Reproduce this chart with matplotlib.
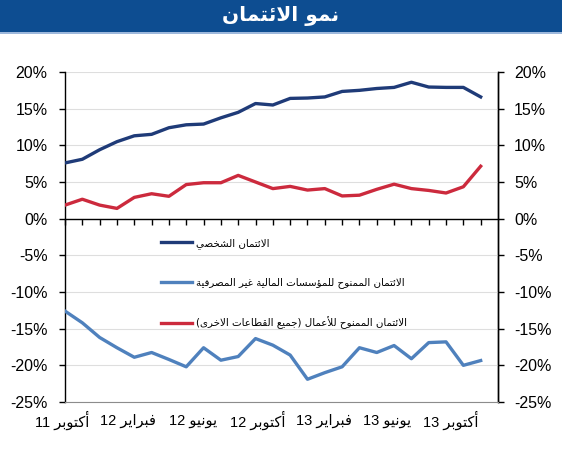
import numpy as np
import matplotlib
matplotlib.use('Agg')
import matplotlib.pyplot as plt
from matplotlib.patches import Rectangle
from matplotlib.ticker import FuncFormatter
from matplotlib.transforms import blended_transform_factory

# ---------------- data ----------------
title = "نمو الائتمان"
series_names = [
    "الائتمان الشخصي",
    "الائتمان الممنوح للمؤسسات المالية غير المصرفية",
    "الائتمان الممنوح للأعمال (جميع القطاعات الاخرى)",
]
# monthly, Oct 2011 .. Oct 2013 (%)
personal = [7.6, 8.1, 9.4, 10.5, 11.3, 11.5, 12.4, 12.8, 12.9, 13.75, 14.5, 15.7, 15.5,
            16.4, 16.45, 16.6, 17.35, 17.5, 17.75, 17.9, 18.6, 17.95, 17.9, 17.9, 16.6]
nbfi = [-12.6, -14.2, -16.2, -17.6, -18.9, -18.25, -19.2, -20.2, -17.6, -19.3, -18.8, -16.35, -17.25,
        -18.6, -21.9, -21.0, -20.2, -17.6, -18.25, -17.3, -19.1, -16.9, -16.8, -20.0, -19.35]
business = [1.85, 2.65, 1.85, 1.4, 2.9, 3.4, 3.05, 4.65, 4.9, 4.9, 5.9, 5.0, 4.1,
            4.4, 3.9, 4.1, 3.1, 3.2, 4.0, 4.7, 4.1, 3.85, 3.5, 4.35, 7.15]
x_labels = ["أكتوبر 11", "فبراير 12", "يونيو 12", "أكتوبر 12", "فبراير 13", "يونيو 13", "أكتوبر 13"]
y_ticks = [-25, -20, -15, -10, -5, 0, 5, 10, 15, 20]

# ------------- minimal Arabic shaping / visual ordering -------------
DUAL = {0x626: 0xFE89, 0x628: 0xFE8F, 0x62A: 0xFE95, 0x62B: 0xFE99, 0x62C: 0xFE9D, 0x62D: 0xFEA1,
        0x62E: 0xFEA5, 0x633: 0xFEB1, 0x634: 0xFEB5, 0x635: 0xFEB9, 0x636: 0xFEBD, 0x637: 0xFEC1,
        0x638: 0xFEC5, 0x639: 0xFEC9, 0x63A: 0xFECD, 0x641: 0xFED1, 0x642: 0xFED5, 0x643: 0xFED9,
        0x644: 0xFEDD, 0x645: 0xFEE1, 0x646: 0xFEE5, 0x647: 0xFEE9, 0x64A: 0xFEF1}
RIGHT = {0x622: 0xFE81, 0x623: 0xFE83, 0x624: 0xFE85, 0x625: 0xFE87, 0x627: 0xFE8D, 0x629: 0xFE93,
         0x62F: 0xFEA9, 0x630: 0xFEAB, 0x631: 0xFEAD, 0x632: 0xFEAF, 0x648: 0xFEED, 0x649: 0xFEEF}
LAMALEF = {0x622: 0xFEF5, 0x623: 0xFEF7, 0x625: 0xFEF9, 0x627: 0xFEFB}


def shape(s):
    toks = []
    i = 0
    while i < len(s):
        c = ord(s[i])
        if c == 0x644 and i + 1 < len(s) and ord(s[i + 1]) in LAMALEF:
            toks.append(('R', LAMALEF[ord(s[i + 1])]))
            i += 2
            continue
        if c in DUAL:
            toks.append(('D', DUAL[c]))
        elif c in RIGHT:
            toks.append(('R', RIGHT[c]))
        elif c == 0x621:
            toks.append(('N', 0xFE80))
        else:
            toks.append(('X', c))
        i += 1
    out = []
    for j, (k, b) in enumerate(toks):
        if k in ('X', 'N'):
            out.append(chr(b))
            continue
        jp = j > 0 and toks[j - 1][0] == 'D'
        jn = k == 'D' and j + 1 < len(toks) and toks[j + 1][0] in ('D', 'R')
        if k == 'D':
            off = 3 if (jp and jn) else 1 if jp else 2 if jn else 0
        else:
            off = 1 if jp else 0
        out.append(chr(b + off))
    return ''.join(out)


def visual(s):
    s = shape(s)
    runs = []
    for ch in s:
        ltr = ch.isascii() and (ch.isalnum() or ch in '%.')
        if runs and runs[-1][0] == ltr:
            runs[-1][1].append(ch)
        else:
            runs.append([ltr, [ch]])
    mirror = {'(': ')', ')': '('}
    parts = []
    for ltr, chs in reversed(runs):
        if ltr:
            parts.append(''.join(chs))
        else:
            parts.append(''.join(mirror.get(c, c) for c in reversed(chs)))
    return ''.join(parts)


FONT = ['Liberation Sans', 'DejaVu Sans']
plt.rcParams['font.family'] = FONT

W, H = 562, 450
fig = plt.figure(figsize=(W / 100, H / 100), dpi=100)

# title bar
fig.patches.append(Rectangle((0, 1 - 32 / H), 1, 32 / H, transform=fig.transFigure,
                             facecolor='#0d4d91', edgecolor='none', zorder=0))
fig.patches.append(Rectangle((0, 1 - 34 / H), 1, 2 / H, transform=fig.transFigure,
                             facecolor='#9db8dc', edgecolor='none', zorder=0))
fig.text(0.5, 1 - 16 / H, visual(title), color='white', fontsize=14.5, fontweight='bold',
         ha='center', va='center', family=['DejaVu Sans'])

ax = fig.add_axes([65 / W, (H - 402) / H, 433 / W, 330 / H])
x = np.arange(len(personal))
l1, = ax.plot(x, personal, color='#1f3b78', lw=2.4, solid_joinstyle='round', zorder=3)
l2, = ax.plot(x, nbfi, color='#4f81bd', lw=2.4, solid_joinstyle='round', zorder=3)
l3, = ax.plot(x, business, color='#cc2a3d', lw=2.4, solid_joinstyle='round', zorder=3)

ax.set_xlim(0, 25)
ax.set_ylim(-25, 20)
ax.set_yticks(y_ticks)
pct = FuncFormatter(lambda v, p: f"{int(round(v))}%")
ax.yaxis.set_major_formatter(pct)
ax.tick_params(axis='y', direction='out', length=4.5, width=1, labelsize=11.5, pad=8)
ax.grid(axis='y', color='#dedede', lw=0.8, zorder=0)
ax.set_axisbelow(True)

# horizontal axis line at 0% with month tick marks
ax.spines['top'].set_position(('data', 0))
ax.spines['top'].set_linewidth(1)
ax.xaxis.set_ticks_position('top')
ax.set_xticks(x)
ax.tick_params(axis='x', direction='in', length=4, width=1, labeltop=False, labelbottom=False)
ax.spines['bottom'].set_color('#8c8c8c')
for s in ('left', 'right'):
    ax.spines[s].set_linewidth(1)

# date labels at the bottom
label_pos = [-0.17, 3.64, 7.4, 11.1, 14.97, 18.6, 22.25]
trans = blended_transform_factory(ax.transData, ax.transAxes)
for pos, lab in zip(label_pos, x_labels):
    ax.text(pos, -0.057, visual(lab), transform=trans, ha='center', va='center',
            fontsize=10.5, clip_on=False)

secy = ax.secondary_yaxis('right')
secy.set_yticks(y_ticks)
secy.yaxis.set_major_formatter(pct)
secy.tick_params(direction='out', length=4.5, width=1, labelsize=11.5, pad=7)
secy.spines['right'].set_linewidth(1)

leg = ax.legend([l1, l2, l3], [visual(n) for n in series_names], loc='upper left',
                bbox_to_anchor=(0.222, 0.497), frameon=False,
                handlelength=3.0, handletextpad=0.35, labelspacing=2.75,
                borderaxespad=0, borderpad=0, prop={'family': 'DejaVu Sans', 'size': 7.4})

fig.savefig('out.png', dpi=100)
